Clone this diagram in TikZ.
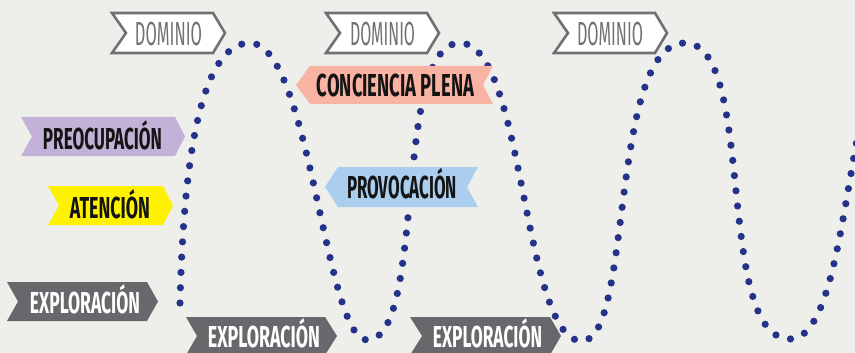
\documentclass[tikz,border=0pt]{standalone}
\usepackage{fontspec}
\setmainfont{Fira Sans}
\usepackage{graphicx}
\definecolor{bgc}{HTML}{EEEEEB}
\definecolor{dotc}{HTML}{253289}
\definecolor{grayb}{HTML}{67686B}
\definecolor{domb}{HTML}{707172}
\definecolor{salm}{HTML}{F8B3A3}
\definecolor{lav}{HTML}{C3B2D8}
\definecolor{yel}{HTML}{FFF200}
\definecolor{blu}{HTML}{ABCEEE}
\definecolor{ink}{HTML}{141414}
\newcommand\btxt[3]{\resizebox{#1pt}{#2pt}{\smash{#3}\vphantom{E}}}
\tikzset{
  wave/.style={dotc, line width=7.2pt, line cap=round, dash pattern=on 0pt off 15.3pt},
  lbl/.style={inner sep=0pt, outer sep=0pt},
  domb/.style={fill=white, draw=domb, line width=2.6pt, line join=miter},
  darktxt/.style={lbl, text=ink, font=\bfseries},
  whitetxt/.style={lbl, text=white, font=\bfseries},
  domtxt/.style={lbl, text=domb, font=\normalfont},
}
\begin{document}
\begin{tikzpicture}[x=1pt,y=-1pt]
\useasboundingbox (0,0) rectangle (855,353);
\fill[bgc] (0,0) rectangle (855,353);
\begin{scope}
\clip (0,0) rectangle (855,353);
\draw[wave] (180,303) .. controls (184,140) and (205,43) .. (250,43)
 .. controls (310,43) and (325,340) .. (367,340)
 .. controls (427,340) and (392,43) .. (460,43)
 .. controls (525,43) and (522,341) .. (582,341)
 .. controls (633,341) and (609,43) .. (685,43)
 .. controls (757,43) and (714,339) .. (790,339)
 .. controls (853,339) and (845,43) .. (900,43);
\end{scope}
% DOMINIO banners
\draw[domb] (112,13) -- (213,13) -- (225,33) -- (213,53) -- (112,53) -- (126,33) -- cycle;
\node[domtxt] (dom1) at (168.5,34) {\btxt{67}{23}{DOMINIO}};
\draw[domb] (326,13) -- (427,13) -- (439,33) -- (427,53) -- (326,53) -- (340,33) -- cycle;
\node[domtxt] (dom2) at (382.5,34) {\btxt{65}{23}{DOMINIO}};
\draw[domb] (554,13) -- (655,13) -- (667,33) -- (655,53) -- (554,53) -- (568,33) -- cycle;
\node[domtxt] (dom3) at (610,34) {\btxt{66}{23}{DOMINIO}};
% CONCIENCIA PLENA
\fill[salm] (310,66) -- (493,66) -- (483,85) -- (493,104) -- (310,104) -- (296,85) -- cycle;
\node[darktxt] (conc) at (395.5,86) {\btxt{157}{22}{CONCIENCIA PLENA}};
% PREOCUPACION
\fill[lav] (21,117) -- (175,117) -- (185,136.5) -- (175,156) -- (21,156) -- (32,136.5) -- cycle;
\node[darktxt] (preo) at (102.5,138.5) {\btxt{119}{21}{PREOCUPACIÓN}};
% ATENCION
\fill[yel] (48,186) -- (163,186) -- (173,205.5) -- (163,225) -- (48,225) -- (59,205.5) -- cycle;
\node[darktxt] (aten) at (110,208) {\btxt{80}{21}{ATENCIÓN}};
% PROVOCACION
\fill[blu] (338,167) -- (478,167) -- (467,187) -- (478,207) -- (338,207) -- (325,187) -- cycle;
\node[darktxt] (prov) at (402,187.5) {\btxt{110}{22}{PROVOCACIÓN}};
% EXPLORACION banners
\fill[grayb] (7,282) -- (147,282) -- (158,301.5) -- (147,321) -- (7,321) -- (18,301.5) -- cycle;
\node[whitetxt] (exp1) at (85,303) {\btxt{110}{21}{EXPLORACIÓN}};
\fill[grayb] (186,317) -- (325,317) -- (337,336) -- (325,355) -- (186,355) -- (197,336) -- cycle;
\node[whitetxt] (exp2) at (264,337) {\btxt{112}{21}{EXPLORACIÓN}};
\fill[grayb] (410,317) -- (550,317) -- (561,336) -- (550,355) -- (410,355) -- (422,336) -- cycle;
\node[whitetxt] (exp3) at (487.5,337) {\btxt{109}{21}{EXPLORACIÓN}};
\end{tikzpicture}
\end{document}
